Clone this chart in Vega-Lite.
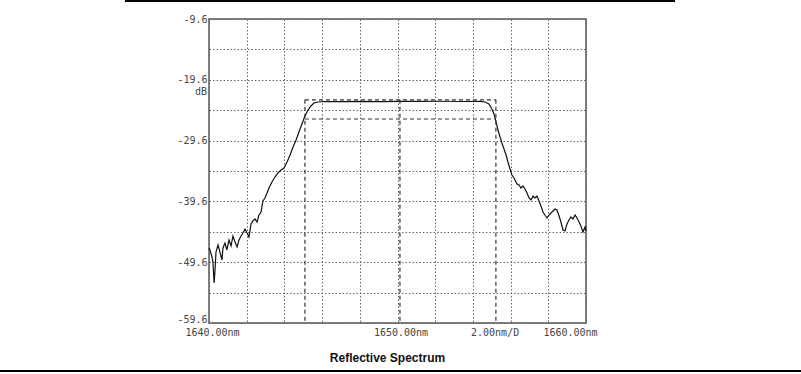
{
  "$schema": "https://vega.github.io/schema/vega-lite/v6.json",
  "width": 377,
  "height": 304,
  "autosize": "none",
  "padding": {"left": 209, "top": 19, "right": 215, "bottom": 51},
  "background": "white",
  "config": {
    "view": {"stroke": "#808080", "strokeWidth": 2},
    "axis": {"labelFont": "DejaVu Sans Mono", "labelColor": "#444", "labelFontSize": 10}
  },
  "datasets": {
    "curve": [
      {"nm": 1640.00, "dB": -47.26}, {"nm": 1640.05, "dB": -47.59}, {"nm": 1640.16, "dB": -48.74},
      {"nm": 1640.21, "dB": -49.57}, {"nm": 1640.27, "dB": -53.02}, {"nm": 1640.32, "dB": -50.88},
      {"nm": 1640.37, "dB": -47.92}, {"nm": 1640.48, "dB": -46.77}, {"nm": 1640.58, "dB": -47.92},
      {"nm": 1640.69, "dB": -49.24}, {"nm": 1640.74, "dB": -47.26}, {"nm": 1640.85, "dB": -46.44},
      {"nm": 1640.95, "dB": -47.59}, {"nm": 1641.06, "dB": -45.95}, {"nm": 1641.17, "dB": -46.93},
      {"nm": 1641.27, "dB": -45.29}, {"nm": 1641.38, "dB": -46.28}, {"nm": 1641.49, "dB": -47.10},
      {"nm": 1641.59, "dB": -45.95}, {"nm": 1641.70, "dB": -45.29}, {"nm": 1641.80, "dB": -44.80},
      {"nm": 1641.91, "dB": -44.14}, {"nm": 1642.02, "dB": -44.80}, {"nm": 1642.12, "dB": -45.45},
      {"nm": 1642.23, "dB": -43.32}, {"nm": 1642.33, "dB": -42.82}, {"nm": 1642.44, "dB": -42.49},
      {"nm": 1642.55, "dB": -42.99}, {"nm": 1642.65, "dB": -41.84}, {"nm": 1642.76, "dB": -41.34},
      {"nm": 1642.86, "dB": -39.53}, {"nm": 1642.97, "dB": -39.04}, {"nm": 1643.08, "dB": -38.22},
      {"nm": 1643.18, "dB": -37.40}, {"nm": 1643.34, "dB": -36.41}, {"nm": 1643.50, "dB": -35.59},
      {"nm": 1643.66, "dB": -34.93}, {"nm": 1643.82, "dB": -34.44}, {"nm": 1643.98, "dB": -34.11},
      {"nm": 1644.14, "dB": -33.12}, {"nm": 1644.30, "dB": -31.97}, {"nm": 1644.46, "dB": -30.65},
      {"nm": 1644.62, "dB": -29.50}, {"nm": 1644.77, "dB": -28.19}, {"nm": 1644.93, "dB": -26.87},
      {"nm": 1645.09, "dB": -25.55}, {"nm": 1645.25, "dB": -24.57}, {"nm": 1645.41, "dB": -23.91},
      {"nm": 1645.57, "dB": -23.42}, {"nm": 1645.78, "dB": -23.25}, {"nm": 1646.15, "dB": -23.17},
      {"nm": 1646.95, "dB": -23.20}, {"nm": 1648.01, "dB": -23.15}, {"nm": 1649.07, "dB": -23.18},
      {"nm": 1650.13, "dB": -23.14}, {"nm": 1651.19, "dB": -23.16}, {"nm": 1652.25, "dB": -23.13},
      {"nm": 1653.32, "dB": -23.17}, {"nm": 1654.38, "dB": -23.15}, {"nm": 1654.64, "dB": -23.25},
      {"nm": 1654.85, "dB": -23.58}, {"nm": 1655.01, "dB": -24.40}, {"nm": 1655.12, "dB": -25.22},
      {"nm": 1655.22, "dB": -26.38}, {"nm": 1655.33, "dB": -27.86}, {"nm": 1655.44, "dB": -29.01},
      {"nm": 1655.54, "dB": -29.99}, {"nm": 1655.65, "dB": -30.98}, {"nm": 1655.76, "dB": -31.97},
      {"nm": 1655.86, "dB": -33.12}, {"nm": 1655.97, "dB": -34.27}, {"nm": 1656.07, "dB": -35.26},
      {"nm": 1656.18, "dB": -35.75}, {"nm": 1656.34, "dB": -36.74}, {"nm": 1656.45, "dB": -36.90},
      {"nm": 1656.55, "dB": -37.40}, {"nm": 1656.66, "dB": -37.07}, {"nm": 1656.76, "dB": -37.56},
      {"nm": 1656.87, "dB": -38.22}, {"nm": 1656.98, "dB": -39.04}, {"nm": 1657.08, "dB": -39.37},
      {"nm": 1657.19, "dB": -38.71}, {"nm": 1657.29, "dB": -39.04}, {"nm": 1657.40, "dB": -38.71},
      {"nm": 1657.51, "dB": -39.53}, {"nm": 1657.61, "dB": -40.36}, {"nm": 1657.72, "dB": -41.34},
      {"nm": 1657.82, "dB": -41.84}, {"nm": 1657.93, "dB": -42.33}, {"nm": 1658.04, "dB": -41.84},
      {"nm": 1658.14, "dB": -41.51}, {"nm": 1658.25, "dB": -41.18}, {"nm": 1658.36, "dB": -40.85},
      {"nm": 1658.46, "dB": -41.01}, {"nm": 1658.57, "dB": -42.00}, {"nm": 1658.67, "dB": -42.99},
      {"nm": 1658.78, "dB": -44.30}, {"nm": 1658.89, "dB": -44.47}, {"nm": 1658.99, "dB": -43.32},
      {"nm": 1659.10, "dB": -42.66}, {"nm": 1659.20, "dB": -42.17}, {"nm": 1659.31, "dB": -42.49},
      {"nm": 1659.42, "dB": -41.84}, {"nm": 1659.52, "dB": -42.33}, {"nm": 1659.63, "dB": -42.99},
      {"nm": 1659.73, "dB": -43.65}, {"nm": 1659.84, "dB": -44.63}, {"nm": 1659.95, "dB": -43.81},
      {"nm": 1660.00, "dB": -44.47}
    ],
    "markers": [
      {"nm": 1645.09, "nm2": 1655.22, "dB": -22.9, "dB2": -22.9},
      {"nm": 1645.09, "nm2": 1655.22, "dB": -26.05, "dB2": -26.05},
      {"nm": 1645.09, "nm2": 1645.09, "dB": -22.9, "dB2": -59.6},
      {"nm": 1655.22, "nm2": 1655.22, "dB": -22.9, "dB2": -59.6},
      {"nm": 1650.13, "nm2": 1650.13, "dB": -22.9, "dB2": -59.6}
    ],
    "frame": [
      {"nm": 1635.54, "nm2": 1664.72, "dB": -6.64, "dB2": -6.64},
      {"nm": 1628.9, "nm2": 1671.6, "dB": -67.49, "dB2": -67.49}
    ]
  },
  "encoding": {
    "x": {
      "field": "nm", "type": "quantitative",
      "scale": {"domain": [1640, 1660], "nice": false, "zero": false},
      "axis": {
        "values": [1640, 1642, 1644, 1646, 1648, 1650, 1652, 1654, 1656, 1658, 1660],
        "tickCount": 30,
        "labelExpr": "datum.value == 1640 ? '1640.00nm' : datum.value == 1650 ? '1650.00nm' : datum.value == 1656 ? '2.00nm/D' : datum.value == 1660 ? '1660.00nm' : ''",
        "labelOffset": {"condition": {"test": "datum.value == 1656 || datum.value == 1660", "value": -16}, "value": 3},
        "labelPadding": 4,
        "labelAlign": "center",
        "labelFlush": false,
        "labelOverlap": false,
        "ticks": false,
        "domain": false,
        "grid": true,
        "gridDash": [1.5, 2],
        "gridColor": "#666",
        "gridOpacity": 1,
        "title": "Reflective Spectrum",
        "titleFont": "Liberation Sans",
        "titleFontSize": 12,
        "titleFontWeight": "bold",
        "titleColor": "#111",
        "titleX": 178,
        "titleY": 29,
        "titleBaseline": "top"
      }
    },
    "y": {
      "field": "dB", "type": "quantitative",
      "scale": {"domain": [-59.6, -9.6], "nice": false, "zero": false},
      "axis": {
        "values": [-59.6, -54.6, -49.6, -44.6, -39.6, -34.6, -29.6, -24.6, -19.6, -14.6, -9.6],
        "tickCount": 30,
        "labelExpr": "round((datum.value + 59.6) / 5) % 2 == 0 ? '-' + format(abs(datum.value), '.1f') : ''",
        "labelOffset": {"condition": {"test": "datum.value < -59", "value": -4}, "value": 0},
        "labelPadding": 2,
        "labelFlush": false,
        "labelOverlap": false,
        "ticks": false,
        "domain": false,
        "grid": true,
        "gridDash": [1.5, 2],
        "gridColor": "#666",
        "gridOpacity": 1,
        "title": null
      }
    }
  },
  "layer": [
    {
      "data": {"name": "curve"},
      "mark": {"type": "line", "color": "#111", "strokeWidth": 1.2, "clip": false}
    },
    {
      "data": {"name": "markers"},
      "mark": {"type": "rule", "color": "#333", "strokeWidth": 1.2, "strokeDash": [4, 3]},
      "encoding": {
        "x2": {"field": "nm2"},
        "y2": {"field": "dB2"}
      }
    },
    {
      "data": {"name": "frame"},
      "mark": {"type": "rule", "color": "#000", "strokeWidth": 2, "clip": false},
      "encoding": {
        "x2": {"field": "nm2"},
        "y2": {"field": "dB2"}
      }
    },
    {
      "data": {"values": [{"nm": 1640, "dB": -19.6, "label": "dB"}]},
      "mark": {"type": "text", "align": "right", "baseline": "middle", "dx": -2, "dy": 12, "font": "DejaVu Sans Mono", "fontSize": 10, "color": "#444"},
      "encoding": {
        "text": {"field": "label"}
      }
    }
  ]
}
